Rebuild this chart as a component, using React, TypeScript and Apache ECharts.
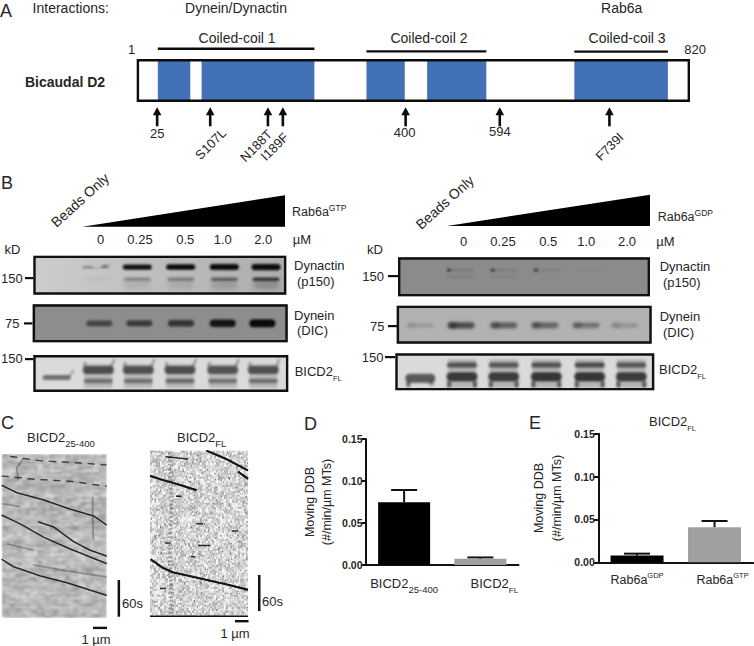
import React, { useEffect, useRef } from "react";
import * as echarts from "echarts";

const FONT = "'Liberation Sans', Arial, sans-serif";
const INK = "#262626";

// Panel A: protein map, residue numbers along the chain
const residueRange = [1, 820];
const helixSpans = [[30.6, 78.9], [95.7, 263.4], [340.8, 397.7], [431, 519], [649.8, 788.9]];
const coilNames = ["Coiled-coil 1", "Coiled-coil 2", "Coiled-coil 3"];
const coilSpans = [[30.6, 263.4], [340.8, 519], [649.8, 788.9]];
const siteLabels = ["25", "S107L", "N188T", "I189F", "400", "594", "F739I"];
const siteResidues = [29.6, 108.5, 194.3, 216.5, 399, 539, 702];

// Panel B: dose series and band strengths (0..1) per lane, beads lane first
const doseLabels = ["0", "0.25", "0.5", "1.0", "2.0"];
const gtpDynactinUpper = [0, 0.4, 0.95, 1, 1, 1];
const gtpDynactinLower = [0, 0.03, 0.3, 0.34, 0.5, 0.75];
const gtpDynein = [0, 0.55, 0.62, 0.68, 0.92, 1];
const gtpBicdUpper = [0, 0.62, 0.6, 0.62, 0.58, 0.6];
const gtpBicdLower = [0.5, 0.42, 0.42, 0.46, 0.4, 0.42];
const gdpDynactinUpper = [0, 0.3, 0.26, 0.22, 0.05, 0];
const gdpDynactinLower = [0, 0.18, 0.09, 0, 0, 0];
const gdpDynein = [0.22, 0.85, 0.7, 0.66, 0.55, 0.28];
const gdpBicdUpper = [0, 0.58, 0.56, 0.58, 0.62, 0.56];
const gdpBicdLower = [0.62, 0.72, 0.7, 0.74, 0.74, 0.7];

// Panel C: kymograph tracks as [µm, seconds]
const kymoLeftTracks = [
  [[0, 51], [1.07, 63], [2.98, 75], [4.88, 90], [6.55, 101], [7.5, 116]],
  [[0, 100], [1.31, 114], [3.0, 136], [4.88, 155], [7.5, 179]],
  [[2.62, 111], [3.69, 119], [5.12, 143], [6.31, 157], [7.5, 167]],
  [[0, 172], [0.83, 184], [2.74, 199], [4.64, 210], [7.5, 231]],
];
const kymoLeftDashed = [
  [[0, 36], [2.26, 41], [5.12, 45], [7.5, 53]],
  [[0.6, 4], [2.74, 11], [5.83, 15], [7.5, 18]],
];
const kymoLeftFaint = [
  [[0.36, 147], [2.26, 157]],
  [[1.55, 7], [1.07, 23], [1.19, 43]],
  [[6.5, 70], [6.5, 102], [6.55, 141]],
  [[0, 81], [1.31, 86]],
  [[2.26, 181], [4.64, 191], [7.5, 201]],
];
const kymoRightTracks = [
  [[4.36, 0], [5.9, 14], [7.56, 33]],
  [[6.8, 35], [7.56, 47]],
  [[0, 42], [1.03, 49], [2.31, 57], [3.59, 66]],
  [[0.05, 181], [1.03, 196], [1.79, 203], [3.85, 213], [5.9, 223], [7.56, 232]],
];
const kymoRightDashes = [
  [[1.2, 10], [2.95, 14]],
  [[1.15, 154], [1.59, 154]],
  [[3.7, 158], [4.67, 158]],
  [[3.59, 122], [4.1, 122]],
  [[6.3, 134], [6.8, 134]],
  [[2.0, 76], [2.44, 76]],
  [[0.77, 230], [1.23, 230]],
  [[3.15, 177], [3.49, 177]],
];
const kymoRightColumn = [[1.54, 2], [1.67, 82], [1.54, 166], [1.67, 274]];

// Panels D and E
const ddbCategories = ["BICD2 25-400", "BICD2 FL"];
const ddbValues = [0.0746, 0.0075];
const ddbUpper = [0.0893, 0.009];
const rabCategories = ["Rab6a GDP", "Rab6a GTP"];
const rabValues = [0.0078, 0.0408];
const rabUpper = [0.0101, 0.0482];
const valueTicks = { min: 0, max: 0.15, interval: 0.05 };

function paintCanvas(w: number, h: number, paint: (c: CanvasRenderingContext2D) => void) {
  const cv = document.createElement("canvas");
  cv.width = w;
  cv.height = h;
  paint(cv.getContext("2d") as CanvasRenderingContext2D);
  return cv.toDataURL();
}

// deterministic film grain for the photographic backgrounds only
function grain(x: number, y: number) {
  let n = (x * 374761393 + y * 668265263) | 0;
  n = Math.imul(n ^ (n >>> 13), 1274126177);
  return ((n ^ (n >>> 16)) >>> 0) / 4294967296;
}

function band(c: CanvasRenderingContext2D, cx: number, y: number, w: number, h: number, alpha: number, blur = 1.1) {
  if (alpha <= 0) return;
  c.save();
  c.filter = `blur(${blur}px)`;
  c.fillStyle = `rgba(10,10,10,${alpha})`;
  c.beginPath();
  (c as any).roundRect(cx - w / 2, y - h / 2, w, h, Math.min(h / 2, w / 2));
  c.fill();
  c.restore();
}

function kymoTexture(w: number, h: number, mode: "streak" | "speckle") {
  return paintCanvas(w, h, (c) => {
    const small = document.createElement("canvas");
    small.width = w;
    small.height = h;
    const sc = small.getContext("2d") as CanvasRenderingContext2D;
    const img = sc.createImageData(w, h);
    for (let y = 0; y < h; y++) {
      const row = grain(7, Math.floor(y / 2));
      for (let x = 0; x < w; x++) {
        let v: number;
        if (mode === "streak") {
          const blk = grain(Math.floor(x / 7), Math.floor(y / 2));
          const patch = grain(Math.floor(x / 4) + 50, Math.floor(y / 3) + 90);
          v = 186 + (row - 0.5) * 22 + (blk - 0.5) * 34 + (patch - 0.5) * 34;
        } else {
          const g = grain(Math.floor(x / 2), Math.floor(y / 2));
          v = 212 + (g - 0.5) * 70 + (grain(x, y) - 0.5) * 46;
          if (grain(x + 200, y) > 0.985) v = 105;
        }
        const i = (y * w + x) * 4;
        img.data[i] = img.data[i + 1] = img.data[i + 2] = v;
        img.data[i + 3] = 255;
      }
    }
    sc.putImageData(img, 0, 0);
    c.filter = mode === "streak" ? "blur(1px)" : "blur(0.6px)";
    c.drawImage(small, 0, 0);
  });
}

const txt = (text: string, x: number, y: number, o: any = {}) => ({
  type: "text",
  x,
  y,
  rotation: o.rotation || 0,
  z: 10,
  style: {
    text,
    fill: INK,
    fontFamily: FONT,
    fontSize: o.size || 13,
    fontWeight: o.weight || "normal",
    align: o.align || "left",
    verticalAlign: "middle",
    textAlign: o.align || "left",
    textVerticalAlign: "middle",
    rich: o.rich,
  },
});

const subRich = (size = 13, small = 8) => ({
  a: { fontFamily: FONT, fontSize: size, fill: INK, color: INK, lineHeight: 22, verticalAlign: "middle" },
  s: { fontFamily: FONT, fontSize: small, fill: INK, color: INK, lineHeight: 10, verticalAlign: "bottom" },
});
const supRich = (size = 13, small = 8) => ({
  a: { fontFamily: FONT, fontSize: size, fill: INK, color: INK, lineHeight: 17, verticalAlign: "middle" },
  u: { fontFamily: FONT, fontSize: small, fill: INK, color: INK, lineHeight: 10, verticalAlign: "top" },
});

const image = (src: string, x: number, y: number, w: number, h: number) => ({
  type: "image",
  z: 1,
  style: { image: src, x, y, width: w, height: h },
});
const frame = (x: number, y: number, w: number, h: number, lw = 2.4) => ({
  type: "rect",
  z: 6,
  shape: { x: x + lw / 2, y: y + lw / 2, width: w - lw, height: h - lw },
  style: { fill: "none", stroke: "#111", lineWidth: lw },
});
const bar = (x: number, y: number, w: number, h: number) => ({
  type: "rect",
  z: 8,
  shape: { x, y, width: w, height: h },
  style: { fill: "#111" },
});

function gelGraphics() {
  const out: any[] = [];

  // left blot, Rab6a-GTP
  const lx1 = [56.7, 96.7, 137.3, 180.7, 224.3, 266];
  let src = paintCanvas(253, 39, (c) => {
    const g = c.createLinearGradient(0, 0, 253, 0);
    g.addColorStop(0, "#cdcdcd");
    g.addColorStop(0.5, "#bebebe");
    g.addColorStop(1, "#adadad");
    c.fillStyle = g;
    c.fillRect(0, 0, 253, 39);
    lx1.forEach((cx, i) => {
      const x = cx - 33.3;
      const up = gtpDynactinUpper[i];
      const lo = gtpDynactinLower[i];
      if (i === 1) {
        band(c, x - 9, 11.4, 10, 2, up, 0.8);
        band(c, x + 8.5, 10.8, 7, 2.4, up * 1.3, 0.8);
        band(c, x + 1, 12, 14, 1, up * 0.4, 0.7);
      } else {
        band(c, x, 11.3, 29, 4.5 + i * 0.35, up, 1);
      }
      band(c, x, 23.5, 27, 3.5, lo);
      if (i >= 2) band(c, x, 29, 26, 9, lo * 0.28, 2.2);
    });
  });
  out.push(image(src, 33.3, 255.7, 253, 39), frame(33.3, 255.7, 253, 39));

  const lx2 = [57, 99.3, 139.3, 181, 222.7, 262.3];
  src = paintCanvas(255, 38, (c) => {
    c.fillStyle = "#8d8d8d";
    c.fillRect(0, 0, 255, 38);
    lx2.forEach((cx, i) => band(c, cx - 32.7, 19, 26, 3 + gtpDynein[i] * 5, gtpDynein[i], 1.2));
  });
  out.push(image(src, 32.7, 304.3, 255, 38), frame(32.7, 304.3, 255, 38));

  const lx3 = [56.7, 98.3, 138.3, 180, 222.7, 263.3];
  src = paintCanvas(255, 37, (c) => {
    c.fillStyle = "#dadada";
    c.fillRect(0, 0, 255, 37);
    lx3.forEach((cx, i) => {
      const x = cx - 33.3;
      if (i === 0) {
        band(c, x, 22.5, 28, 5, gtpBicdLower[i], 1);
        c.save();
        c.filter = "blur(1px)";
        c.strokeStyle = "rgba(70,70,70,.4)";
        c.lineWidth = 2;
        c.beginPath();
        c.moveTo(x + 12, 22);
        c.lineTo(x + 17, 15);
        c.stroke();
        c.restore();
        return;
      }
      c.save();
      c.filter = "blur(1.2px)";
      c.fillStyle = "rgba(110,110,110,.3)";
      c.fillRect(x - 14, 9, 28, 24);
      c.strokeStyle = "rgba(60,60,60,.5)";
      c.lineWidth = 2;
      c.beginPath();
      c.moveTo(x + 13, 12);
      c.lineTo(x + 16, 4);
      c.stroke();
      c.beginPath();
      c.moveTo(x - 14, 12);
      c.lineTo(x - 13, 7);
      c.stroke();
      c.restore();
      band(c, x, 15, 31, 8, gtpBicdUpper[i], 1.2);
      band(c, x, 26, 29, 4.5, gtpBicdLower[i], 1);
    });
  });
  out.push(image(src, 33.3, 355, 255, 37), frame(33.3, 355, 255, 37));

  // right blot, Rab6a-GDP
  const rx1 = [420, 460, 503.7, 547, 588.7, 628];
  src = paintCanvas(252, 39, (c) => {
    c.fillStyle = "#8b8b8b";
    c.fillRect(0, 0, 252, 39);
    rx1.forEach((cx, i) => {
      const x = cx - 398;
      band(c, x, 12.7, 27, 1.6, gdpDynactinUpper[i] * 0.65, 0.9);
      band(c, x, 19.4, 27, 1.5, gdpDynactinLower[i] * 0.8, 0.9);
      if (gdpDynactinUpper[i] > 0.2) band(c, x - 11, 12.7, 4, 3, 0.6, 0.9);
    });
  });
  out.push(image(src, 398, 257.3, 252, 39), frame(398, 257.3, 252, 39));

  const rx2 = [420, 461, 503.7, 544.7, 586, 624.7];
  src = paintCanvas(255, 38, (c) => {
    c.fillStyle = "#b2b2b2";
    c.fillRect(0, 0, 255, 38);
    rx2.forEach((cx, i) => {
      const x = cx - 396.7;
      band(c, x, 19.6, 27, 3 + gdpDynein[i] * 4, gdpDynein[i] * 0.72, 1.4);
      band(c, x - 8, 19.6, 8, 6, gdpDynein[i] * 0.4, 1.4);
    });
  });
  out.push(image(src, 396.7, 305.7, 255, 38), frame(396.7, 305.7, 255, 38));

  const rx3 = [420.3, 462, 503.7, 546.3, 589.7, 631.3];
  src = paintCanvas(259, 37, (c) => {
    c.fillStyle = "#dadada";
    c.fillRect(0, 0, 259, 37);
    rx3.forEach((cx, i) => {
      const x = cx - 395.3;
      if (i === 0) {
        band(c, x, 25, 30, 9, gdpBicdLower[i], 1.3);
        band(c, x - 12, 31, 4, 6, 0.55, 0.9);
        band(c, x + 11, 30, 5, 5, 0.35, 0.9);
        return;
      }
      c.save();
      c.filter = "blur(1px)";
      c.fillStyle = "rgba(130,130,130,.45)";
      c.fillRect(x - 14, 6, 28, 28);
      c.restore();
      band(c, x, 11.7, 30, 5, gdpBicdUpper[i], 1.1);
      band(c, x, 23.5, 31, 9, gdpBicdLower[i], 1.3);
      band(c, x - 13, 31, 4, 7, 0.55, 0.9);
      band(c, x + 13, 31, 4, 7, 0.55, 0.9);
    });
  });
  out.push(image(src, 395.3, 353.3, 259, 37), frame(395.3, 353.3, 259, 37));
  return out;
}

function graphics() {
  const g: any[] = [];
  // panel letters
  [["A", 0, 11], ["B", 1, 183], ["C", 1, 423], ["D", 304, 424], ["E", 529, 423]].forEach(([l, x, y]: any) =>
    g.push(txt(l, x, y, { size: 18 }))
  );
  // panel A headings
  g.push(txt("Interactions:", 32.6, 7.5, { size: 14 }));
  g.push(txt("Dynein/Dynactin", 236, 7.5, { size: 14, align: "center" }));
  g.push(txt("Rab6a", 621.7, 7.5, { size: 14, align: "center" }));
  g.push(txt("Bicaudal D2", 25, 81.7, { size: 14, weight: "bold" }));
  g.push(txt("1", 131.7, 49.3, { size: 13, align: "center" }));
  g.push(txt("820", 684.3, 49.3, { size: 13 }));

  // panel B left
  g.push(txt("Beads Only", 80, 200, { size: 14, align: "center", rotation: (42 * Math.PI) / 180 }));
  g.push({ type: "polygon", z: 5, shape: { points: [[82.3, 226.7], [285, 195.3], [285, 226.7]] }, style: { fill: "#000" } });
  g.push(txt("{a|Rab6a}{u|GTP}", 292, 212, { size: 12.5, rich: supRich(12.5, 8.5) }));
  [100.7, 140, 185.3, 222.7, 263.3].forEach((x, i) => g.push(txt(doseLabels[i], x, 239, { align: "center" })));
  g.push(txt("µM", 292.7, 239));
  g.push(txt("kD", 12.5, 249, { align: "center" }));
  g.push(txt("150", 1, 278.3), txt("75", 5, 323), txt("150", 1, 358.3));
  g.push(bar(25, 277, 8.5, 2.2), bar(24, 322.3, 8.5, 2.2), bar(25, 358, 8.5, 2.2));
  g.push(txt("Dynactin", 294, 265), txt("(p150)", 297, 281), txt("Dynein", 294, 315), txt("(DIC)", 297, 330.7));
  g.push(txt("{a|BICD2}{s|FL}", 294.7, 371, { rich: subRich(13, 7.5) }));

  // panel B right
  g.push(txt("Beads Only", 444.7, 202.3, { size: 14, align: "center", rotation: (42 * Math.PI) / 180 }));
  g.push({ type: "polygon", z: 5, shape: { points: [[447, 226], [650, 194.7], [650, 226]] }, style: { fill: "#000" } });
  g.push(txt("{a|Rab6a}{u|GDP}", 657.7, 216.7, { size: 12.5, rich: supRich(12.5, 8.5) }));
  [463.7, 503, 548.3, 586.3, 627].forEach((x, i) => g.push(txt(doseLabels[i], x, 241.7, { align: "center" })));
  g.push(txt("µM", 656.3, 241.7));
  g.push(txt("kD", 367, 249));
  g.push(txt("150", 362.3, 276.7), txt("75", 370, 326), txt("150", 361.7, 357.3));
  g.push(bar(388, 275, 10, 2.2), bar(388, 325, 9, 2.2), bar(385, 356, 10, 2.2));
  g.push(txt("Dynactin", 659.7, 266), txt("(p150)", 663, 282.3), txt("Dynein", 659.7, 316), txt("(DIC)", 663, 332.7));
  g.push(txt("{a|BICD2}{s|FL}", 659, 369, { rich: subRich(13, 7.5) }));
  g.push(...gelGraphics());

  // panel C
  g.push(txt("{a|BICD2}{s|25-400}", 27, 437, { rich: subRich(13, 9.5) }));
  g.push(txt("{a|BICD2}{s|FL}", 177, 437, { rich: subRich(13, 9.5) }));
  g.push(image(kymoTexture(105, 164, "streak"), 1.7, 454, 105, 164));
  g.push(image(kymoTexture(98, 166, "speckle"), 150, 450.7, 98, 166));
  g.push(bar(150, 615.5, 98, 1.4));
  g.push(bar(117.6, 580, 2.5, 36.7), bar(258, 575, 2.5, 36));
  g.push(bar(93, 626.7, 14, 2.4), bar(235, 620, 13.5, 2.4));
  g.push(txt("60s", 122, 603), txt("60s", 262, 601));
  g.push(txt("1 µm", 96, 639, { align: "center" }), txt("1 µm", 235, 633, { align: "center" }));

  // panel E title
  g.push(txt("{a|BICD2}{s|FL}", 649, 421, { rich: subRich(13, 7.5) }));
  return g;
}

const proteinAxes = { gridIndex: 0, show: false };

const renderHelix = (_: any, api: any) => {
  const a = api.coord([api.value(0), 0]);
  const b = api.coord([api.value(1), 1]);
  return {
    type: "rect",
    shape: { x: a[0], y: b[1], width: b[0] - a[0], height: a[1] - b[1] },
    style: { fill: "#4272b5" },
  };
};

const renderFrame = (_: any, api: any) => {
  const a = api.coord([api.value(0), 0]);
  const b = api.coord([api.value(1), 1]);
  return {
    type: "rect",
    shape: { x: a[0], y: b[1], width: b[0] - a[0], height: a[1] - b[1] },
    style: { fill: "none", stroke: "#0c0c0c", lineWidth: 2.4 },
  };
};

const renderCoil = (p: any, api: any) => {
  const i = p.dataIndex;
  const a = api.coord([api.value(0), 1]);
  const b = api.coord([api.value(1), 1]);
  const barY = [48.7, 51.4, 51.6][i];
  const shift = [1, 2.5, 6][i];
  return {
    type: "group",
    children: [
      { type: "rect", shape: { x: a[0], y: barY - 1.2, width: b[0] - a[0], height: 2.4 }, style: { fill: "#0c0c0c" } },
      {
        type: "text",
        x: (a[0] + b[0]) / 2 + shift,
        y: 37.5,
        style: { text: coilNames[i], fill: INK, fontFamily: FONT, fontSize: 14, align: "center", verticalAlign: "middle", textAlign: "center", textVerticalAlign: "middle" },
      },
    ],
  };
};

const renderSite = (p: any, api: any) => {
  const i = p.dataIndex;
  const x = api.coord([api.value(0), 0])[0];
  const top = 107.3;
  const label = siteLabels[i];
  const angled = /[A-Z]/.test(label);
  const labelY = [133, 144, 145.7, 146.7, 132.7, 131.7, 146.7][i];
  const labelX = [0, 0.4, -11.8, -8.3, -1, 0, 0][i];
  return {
    type: "group",
    children: [
      { type: "rect", shape: { x: x - 1.3, y: top + 6, width: 2.6, height: 13 }, style: { fill: "#0c0c0c" } },
      { type: "polygon", shape: { points: [[x, top], [x - 4.3, top + 8], [x + 4.3, top + 8]] }, style: { fill: "#0c0c0c" } },
      {
        type: "text",
        x: x + labelX,
        y: labelY,
        rotation: angled ? Math.PI / 4 : 0,
        style: { text: label, fill: INK, fontFamily: FONT, fontSize: 13, align: "center", verticalAlign: "middle", textAlign: "center", textVerticalAlign: "middle" },
      },
    ],
  };
};

const renderWhisker = (_: any, api: any) => {
  const top = api.coord([api.value(0), api.value(2)]);
  const base = api.coord([api.value(0), api.value(1)]);
  const half = 13;
  const line = { stroke: "#111", lineWidth: 2 };
  return {
    type: "group",
    children: [
      { type: "line", shape: { x1: top[0], y1: base[1], x2: top[0], y2: top[1] }, style: line },
      { type: "line", shape: { x1: top[0] - half, y1: top[1], x2: top[0] + half, y2: top[1] }, style: line },
    ],
  };
};

const xRich = {
  a: { fontFamily: FONT, fontSize: 13, color: INK, lineHeight: 22, verticalAlign: "middle" },
  p: { fontFamily: FONT, fontSize: 13, color: INK, lineHeight: 22, verticalAlign: "middle", padding: [0, 0, 0, 28] },
  q: { fontFamily: FONT, fontSize: 12.5, color: INK, lineHeight: 17, verticalAlign: "middle", padding: [0, 0, 0, 16] },
  r: { fontFamily: FONT, fontSize: 12.5, color: INK, lineHeight: 17, verticalAlign: "middle" },
  s: { fontFamily: FONT, fontSize: 9.5, color: INK, lineHeight: 10, verticalAlign: "bottom" },
  f: { fontFamily: FONT, fontSize: 8, color: INK, lineHeight: 10, verticalAlign: "bottom" },
  u: { fontFamily: FONT, fontSize: 7.5, color: INK, lineHeight: 10, verticalAlign: "top" },
};

const valueAxis = (gridIndex: number, nameGap: number) => ({
  type: "value",
  gridIndex,
  ...valueTicks,
  name: "Moving DDB\n(#/min/µm MTs)",
  nameLocation: "middle",
  nameRotate: 90,
  nameGap,
  nameTextStyle: { fontFamily: FONT, fontSize: 12.5, color: INK, lineHeight: 17.5 },
  axisLine: { show: true, lineStyle: { color: "#111", width: 2 } },
  axisTick: { show: true, length: 4.5, lineStyle: { color: "#111", width: 2 } },
  axisLabel: { fontFamily: FONT, fontSize: 10.5, fontWeight: "bold", color: INK, margin: 3.5, formatter: (v: number) => v.toFixed(2) },
  splitLine: { show: false },
});

const catAxis = (gridIndex: number, data: string[], formatter: any, margin: number) => ({
  type: "category",
  gridIndex,
  data,
  axisLine: { lineStyle: { color: "#111", width: 2 } },
  axisTick: { alignWithLabel: true, length: 4.5, lineStyle: { color: "#111", width: 2 } },
  axisLabel: { interval: 0, margin, formatter, rich: xRich },
});

const barSeries = (i: number, values: number[], width: number) => ({
  type: "bar",
  xAxisIndex: i,
  yAxisIndex: i,
  barWidth: width,
  data: values.map((v, k) => ({ value: v, itemStyle: { color: k === 0 ? "#000" : "#a0a0a0" } })),
});

const whiskers = (i: number, values: number[], upper: number[]) => ({
  type: "custom",
  xAxisIndex: i,
  yAxisIndex: i,
  renderItem: renderWhisker,
  clip: false,
  z: 1,
  data: values.map((v, k) => [k, v, upper[k]]),
});

const kymoSeries = (i: number, track: number[][], color: string, width: number, type: any = "solid", soft = true) => ({
  type: "line",
  xAxisIndex: i,
  yAxisIndex: i,
  data: track,
  showSymbol: false,
  symbol: "none",
  z: 3,
  lineStyle: soft ? { color, width, type, shadowBlur: 1.5, shadowColor: color } : { color, width, type },
});

const hiddenGrid = (left: number, top: number, width: number, height: number) => ({ left, top, width, height });

export default function App() {
  const ref = useRef<HTMLDivElement>(null);
  useEffect(() => {
    document.body.style.margin = "0";
    const chart = echarts.init(ref.current as HTMLDivElement, undefined, { renderer: "svg" });
    chart.setOption({
      animation: false,
      backgroundColor: "#fff",
      grid: [
        hiddenGrid(137.9, 60.2, 550.9, 40.6),
        hiddenGrid(366, 439, 152.5, 126),
        hiddenGrid(598.3, 433.7, 155, 128.6),
        hiddenGrid(1.7, 454, 105, 164),
        hiddenGrid(150, 450.7, 98, 166),
      ],
      xAxis: [
        { ...proteinAxes, type: "value", min: residueRange[0], max: residueRange[1] },
        catAxis(1, ddbCategories, (_: string, i: number) => (i === 0 ? "{a|BICD2}{s|25-400}" : "{p|BICD2}{f|FL}"), 7),
        catAxis(2, rabCategories, (_: string, i: number) => (i === 0 ? "{r|Rab6a}{u|GDP}" : "{q|Rab6a}{u|GTP}"), 9),
        { type: "value", gridIndex: 3, show: false, min: 0, max: 7.5 },
        { type: "value", gridIndex: 4, show: false, min: 0, max: 7.56 },
      ],
      yAxis: [
        { gridIndex: 0, show: false, type: "value", min: 0, max: 1 },
        valueAxis(1, 30),
        valueAxis(2, 33),
        { type: "value", gridIndex: 3, show: false, min: 0, max: 268, inverse: true },
        { type: "value", gridIndex: 4, show: false, min: 0, max: 277, inverse: true },
      ],
      graphic: { elements: graphics() },
      series: [
        { type: "custom", xAxisIndex: 0, yAxisIndex: 0, clip: false, z: 3, renderItem: renderHelix, data: helixSpans },
        { type: "custom", xAxisIndex: 0, yAxisIndex: 0, clip: false, z: 4, renderItem: renderFrame, data: [residueRange] },
        { type: "custom", xAxisIndex: 0, yAxisIndex: 0, clip: false, z: 4, renderItem: renderCoil, data: coilSpans },
        { type: "custom", xAxisIndex: 0, yAxisIndex: 0, clip: false, z: 4, renderItem: renderSite, data: siteResidues.map((r) => [r]) },
        barSeries(1, ddbValues, 52),
        whiskers(1, ddbValues, ddbUpper),
        barSeries(2, rabValues, 53),
        whiskers(2, rabValues, rabUpper),
        ...kymoLeftTracks.map((t) => kymoSeries(3, t, "rgba(25,25,25,.8)", 1.3)),
        ...kymoLeftDashed.map((t) => kymoSeries(3, t, "rgba(25,25,25,.65)", 1.2, [7, 6])),
        ...kymoLeftFaint.map((t) => kymoSeries(3, t, "rgba(60,60,60,.4)", 1.8, "solid", false)),
        kymoSeries(4, kymoRightColumn, "rgba(50,50,50,.3)", 4, [2, 2], false),
        ...kymoRightTracks.map((t) => kymoSeries(4, t, "rgba(15,15,15,.88)", 1.9)),
        ...kymoRightDashes.map((t) => kymoSeries(4, t, "rgba(15,15,15,.88)", 1.5, "solid", false)),
      ],
    });
    return () => chart.dispose();
  }, []);
  return <div ref={ref} style={{ width: 754, height: 646 }} />;
}
